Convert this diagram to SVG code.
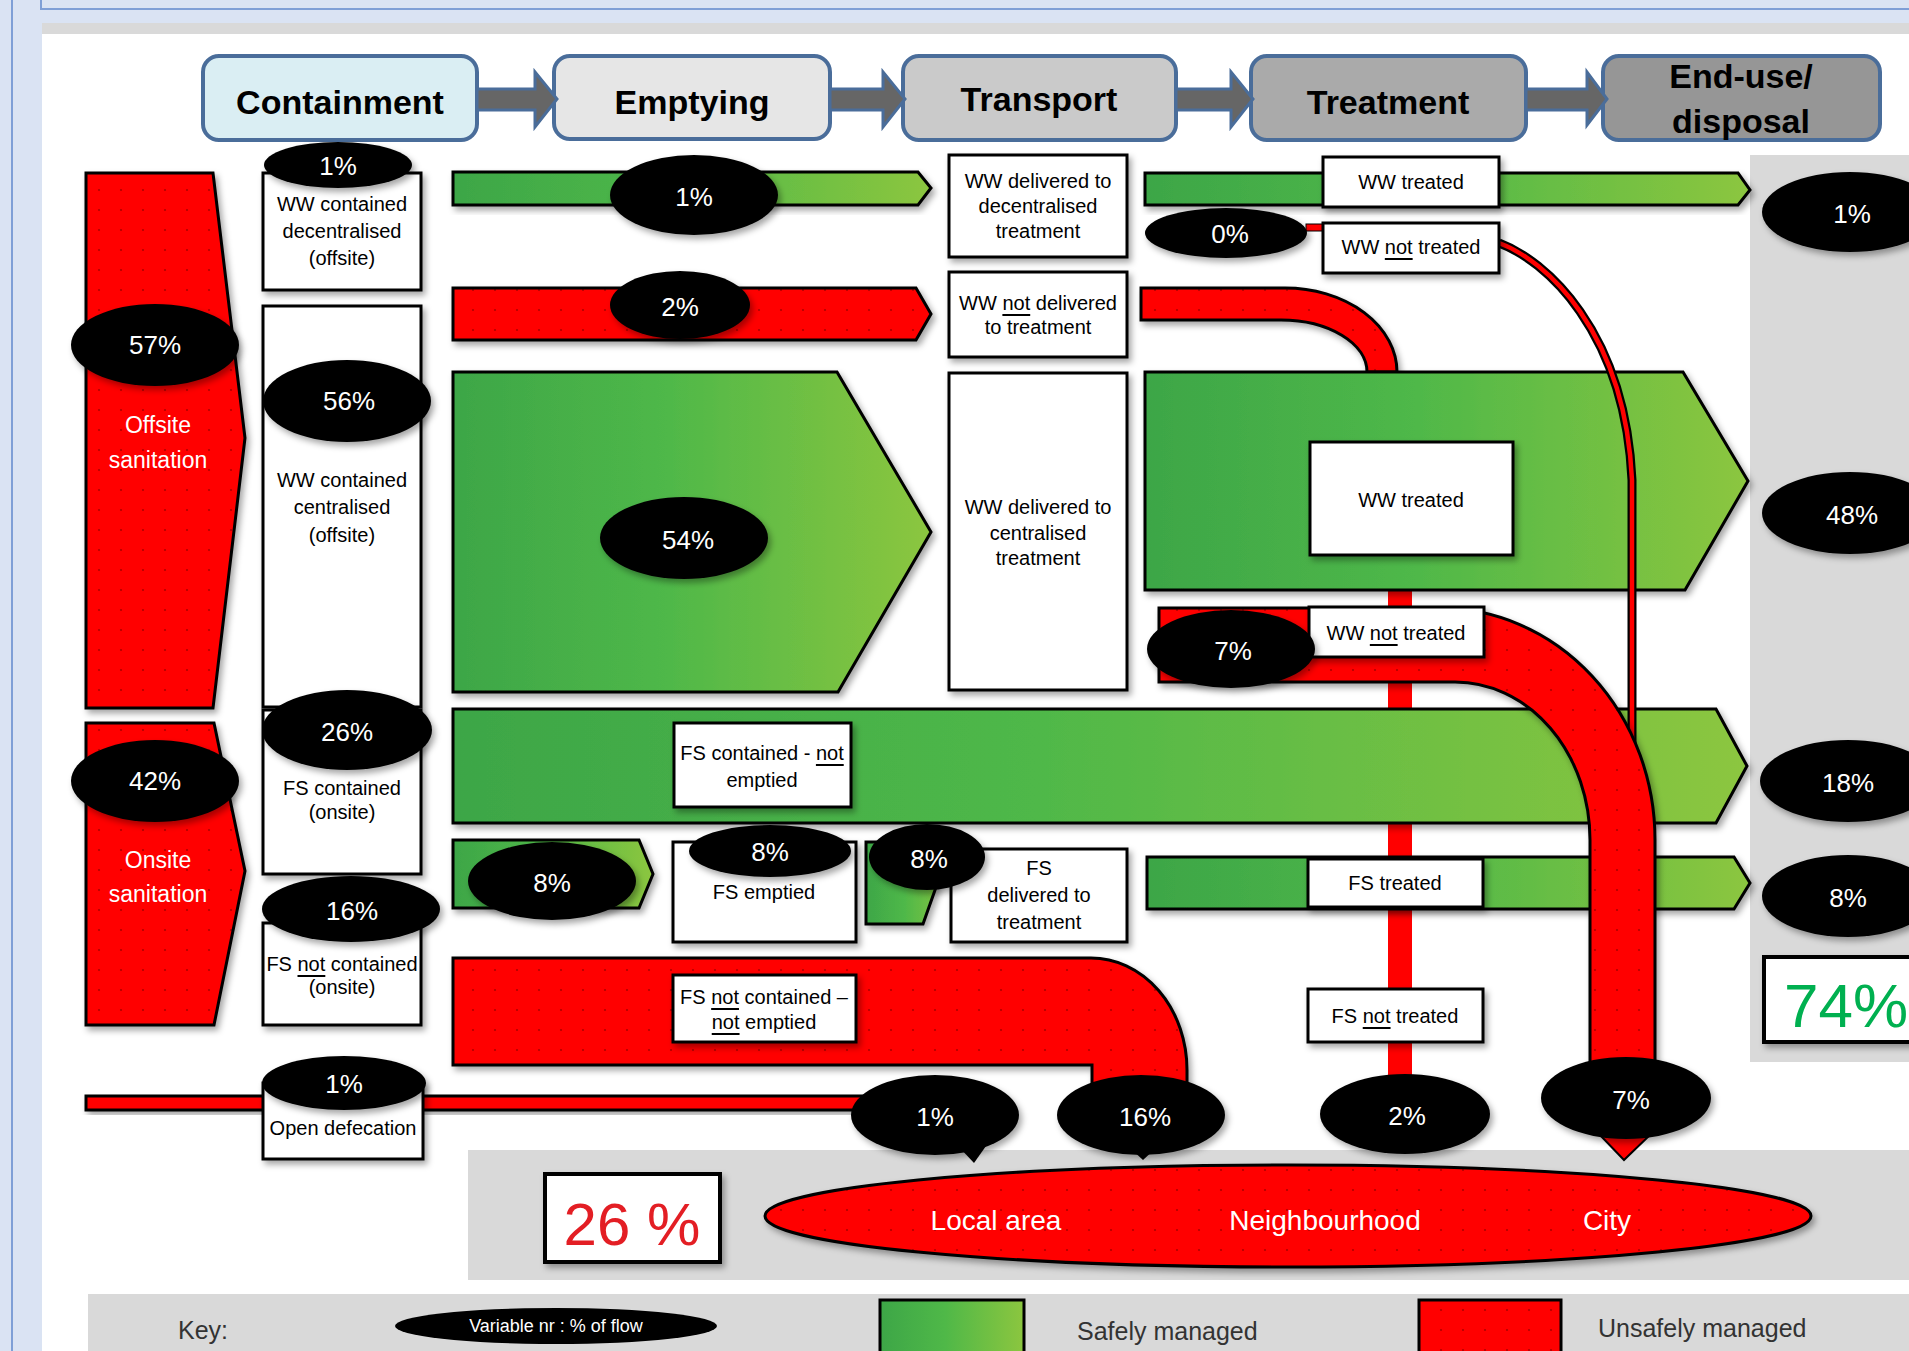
<svg xmlns="http://www.w3.org/2000/svg" width="1909" height="1351" viewBox="0 0 1909 1351">
<defs>
<style>
.box{fill:#fff;stroke:#000;stroke-width:3}
.red{fill:url(#redp);stroke:#000;stroke-width:3}
.grn{fill:url(#gg);stroke:#000;stroke-width:3}
.ell{fill:#000}
.pct{font-family:"Liberation Sans",Arial,sans-serif;font-size:26px;fill:#fff;text-anchor:middle;dominant-baseline:central}
.lbl{font-family:"Liberation Sans",Arial,sans-serif;font-size:20px;fill:#000;text-anchor:middle;dominant-baseline:central}
.hdr{font-family:"Liberation Sans",Arial,sans-serif;font-size:34px;font-weight:bold;fill:#000;text-anchor:middle}
.hbox{stroke:#4a6d9a;stroke-width:4}
.harr{fill:#666;stroke:#4a6d9a;stroke-width:3}
.wt{font-family:"Liberation Sans",Arial,sans-serif;fill:#fff;text-anchor:middle;dominant-baseline:central}
.key{font-family:"Liberation Sans",Arial,sans-serif;font-size:25px;fill:#333;dominant-baseline:central}
.sh{filter:url(#sh)}
</style>
<pattern id="redp" width="22" height="20" patternUnits="userSpaceOnUse"><rect width="22" height="20" fill="#ff0000"/><circle cx="11" cy="10" r="1.1" fill="#b00000"/></pattern>
<linearGradient id="gg" x1="0" y1="0" x2="1" y2="0"><stop offset="0" stop-color="#3da647"/><stop offset="0.45" stop-color="#4fb848"/><stop offset="1" stop-color="#8cc63f"/></linearGradient>
<filter id="sh" x="-10%" y="-10%" width="130%" height="140%"><feDropShadow dx="3" dy="4" stdDeviation="3" flood-color="#000" flood-opacity="0.35"/></filter>
</defs>

<g id="background">
<rect width="1909" height="1351" fill="#dae3f3"/>
<rect x="42" y="23" width="1867" height="1328" fill="#fff"/>
<rect x="42" y="23" width="1867" height="11" fill="#d9d9d9"/>
<line x1="12" y1="0" x2="12" y2="1351" stroke="#7f9fd6" stroke-width="2"/>
<polyline points="41,0 41,9 1909,9" fill="none" stroke="#7f9fd6" stroke-width="2"/>
<rect x="1750" y="155" width="159" height="907" fill="#d9d9d9"/>
<rect x="468" y="1150" width="1441" height="130" fill="#d9d9d9"/>
<rect x="88" y="1294" width="1821" height="57" fill="#d9d9d9"/>
</g>

<g id="headers">
<g id="h-containment"><rect class="hbox" x="203" y="56" width="274" height="84" rx="16" fill="#daeef3"/><text class="hdr" x="340" y="114">Containment</text></g>
<g id="h-emptying"><rect class="hbox" x="554" y="56" width="276" height="83" rx="16" fill="#e6e6e6"/><text class="hdr" x="692" y="114">Emptying</text></g>
<g id="h-transport"><rect class="hbox" x="903" y="56" width="273" height="84" rx="16" fill="#cacaca"/><text class="hdr" x="1039" y="111">Transport</text></g>
<g id="h-treatment"><rect class="hbox" x="1251" y="56" width="275" height="84" rx="16" fill="#aaaaaa"/><text class="hdr" x="1388" y="114">Treatment</text></g>
<g id="h-enduse"><rect class="hbox" x="1603" y="56" width="277" height="84" rx="16" fill="#969696"/><text class="hdr" x="1741" y="88">End-use/</text><text class="hdr" x="1741" y="133">disposal</text></g>
</g>

<g id="connectors">
<path class="harr" d="M477,89 H535 V72 L557,99 L535,127 V110 H477 Z"/>
<path class="harr" d="M830,89 H883 V72 L905,99 L883,127 V110 H830 Z"/>
<path class="harr" d="M1176,89 H1231 V72 L1253,99 L1231,127 V110 H1176 Z"/>
<path class="harr" d="M1526,89 H1587 V72 L1607,99 L1587,125 V110 H1526 Z"/>

<rect x="1388" y="588" width="24" height="490" fill="#ff0000"/>
<polygon class="grn sh" points="453,172 918,172 931,188 918,205 453,205"/>
<polygon class="red sh" points="453,288 916,288 931,314 916,340 453,340"/>
<polygon class="grn sh" points="453,372 837,372 931,532 838,692 453,692"/>
<polygon class="grn sh" points="1145,173 1738,173 1750,190 1738,205 1145,205"/>
<rect x="1306" y="224" width="20" height="7" fill="#ff0000" stroke="#000" stroke-width="1"/>
<path class="red sh" d="M1141,288 H1285 A112,84 0 0 1 1397,372 H1367 A86,52 0 0 0 1281,320 H1141 Z"/>
<polygon class="grn sh" points="1145,372 1683,372 1748,481 1685,590 1145,590"/>
<polygon class="grn sh" points="453,709 1716,709 1747,766 1716,823 453,823"/>
<polygon class="grn sh" points="453,840 639,840 653,874 639,908 453,908"/>
<polygon class="grn sh" points="866,842 952,842 923,924 866,924"/>
<polygon class="grn sh" points="1147,857 1734,857 1750,883 1734,909 1147,909"/>
<path class="red sh" d="M453,958 H1091 A96,112 0 0 1 1187,1070 V1095 H1092 V1065 H453 Z"/>
<rect class="red sh" x="86" y="1096" width="790" height="14"/>
<path d="M1499,243 C1545,260 1625,330 1632,480 V800" fill="none" stroke="#000" stroke-width="9"/>
<path d="M1499,243 C1545,260 1625,330 1632,480 V800" fill="none" stroke="#ff0000" stroke-width="4.5"/>
<path class="red sh" d="M1159,608 H1440 A215,232 0 0 1 1655,840 V1075 H1590 V840 A135,158 0 0 0 1455,682 H1159 Z"/>
<polygon points="1598,1133 1652,1133 1624,1160" fill="#ff0000" stroke="#000" stroke-width="2"/>
</g>

<g id="offsite"><polygon class="red sh" points="86,173 213,173 245,438 213,708 86,708"/><text class="wt" x="158" y="425" font-size="23">Offsite</text><text class="wt" x="158" y="460" font-size="23">sanitation</text></g>
<g id="onsite"><polygon class="red sh" points="86,723 214,723 245,871 214,1025 86,1025"/><text class="wt" x="158" y="860" font-size="23">Onsite</text><text class="wt" x="158" y="894" font-size="23">sanitation</text></g>

<g id="ww-decentral"><rect class="box sh" x="263" y="173" width="158" height="117"/><text class="lbl" x="342" y="204">WW contained</text><text class="lbl" x="342" y="231">decentralised</text><text class="lbl" x="342" y="258">(offsite)</text></g>
<g id="ww-central"><rect class="box sh" x="263" y="306" width="158" height="401"/><text class="lbl" x="342" y="480">WW contained</text><text class="lbl" x="342" y="507">centralised</text><text class="lbl" x="342" y="535">(offsite)</text></g>
<g id="fs-contained"><rect class="box sh" x="263" y="710" width="158" height="164"/><text class="lbl" x="342" y="788">FS contained</text><text class="lbl" x="342" y="812">(onsite)</text></g>
<g id="fs-notcontained"><rect class="box sh" x="263" y="923" width="158" height="102"/><text class="lbl" x="342" y="964">FS <tspan text-decoration="underline">not</tspan> contained</text><text class="lbl" x="342" y="987">(onsite)</text></g>
<g id="open-def"><rect class="box sh" x="263" y="1083" width="160" height="76"/><text class="lbl" x="343" y="1128">Open defecation</text></g>

<g id="fs-notemptied"><rect class="box sh" x="674" y="723" width="177" height="84"/><text class="lbl" x="762" y="753">FS contained - <tspan text-decoration="underline">not</tspan></text><text class="lbl" x="762" y="780">emptied</text></g>
<g id="fs-emptied"><rect class="box sh" x="673" y="842" width="183" height="100"/><text class="lbl" x="764" y="892">FS emptied</text></g>
<g id="fs-nc-ne"><rect class="box sh" x="673" y="975" width="183" height="67"/><text class="lbl" x="764" y="997">FS <tspan text-decoration="underline">not</tspan> contained –</text><text class="lbl" x="764" y="1022"><tspan text-decoration="underline">not</tspan> emptied</text></g>

<g id="t-ww-dec"><rect class="box sh" x="949" y="155" width="178" height="102"/><text class="lbl" x="1038" y="181">WW delivered to</text><text class="lbl" x="1038" y="206">decentralised</text><text class="lbl" x="1038" y="231">treatment</text></g>
<g id="t-ww-not"><rect class="box sh" x="949" y="272" width="178" height="85"/><text class="lbl" x="1038" y="303">WW <tspan text-decoration="underline">not</tspan> delivered</text><text class="lbl" x="1038" y="327">to treatment</text></g>
<g id="t-ww-cen"><rect class="box sh" x="949" y="373" width="178" height="317"/><text class="lbl" x="1038" y="507">WW delivered to</text><text class="lbl" x="1038" y="533">centralised</text><text class="lbl" x="1038" y="558">treatment</text></g>
<g id="t-fs"><rect class="box sh" x="951" y="849" width="176" height="93"/><text class="lbl" x="1039" y="868">FS</text><text class="lbl" x="1039" y="895">delivered to</text><text class="lbl" x="1039" y="922">treatment</text></g>

<g id="tr-ww1"><rect class="box sh" x="1323" y="157" width="176" height="50"/><text class="lbl" x="1411" y="182">WW treated</text></g>
<g id="tr-ww1n"><rect class="box sh" x="1323" y="223" width="176" height="50"/><text class="lbl" x="1411" y="247">WW <tspan text-decoration="underline">not</tspan> treated</text></g>
<g id="tr-ww2"><rect class="box sh" x="1310" y="442" width="203" height="113"/><text class="lbl" x="1411" y="500">WW treated</text></g>
<g id="tr-ww2n"><rect class="box sh" x="1309" y="607" width="175" height="50"/><text class="lbl" x="1396" y="633">WW <tspan text-decoration="underline">not</tspan> treated</text></g>
<g id="tr-fs"><rect class="box sh" x="1308" y="859" width="175" height="48"/><text class="lbl" x="1395" y="883">FS treated</text></g>
<g id="tr-fsn"><rect class="box sh" x="1308" y="989" width="175" height="53"/><text class="lbl" x="1395" y="1016">FS <tspan text-decoration="underline">not</tspan> treated</text></g>

<g id="pct-labels">
<ellipse class="ell sh" cx="155" cy="345" rx="84" ry="41"/><text class="pct" x="155" y="345">57%</text>
<ellipse class="ell sh" cx="155" cy="781" rx="84" ry="41"/><text class="pct" x="155" y="781">42%</text>
<ellipse class="ell sh" cx="338" cy="165" rx="74" ry="23"/><text class="pct" x="338" y="166">1%</text>
<ellipse class="ell sh" cx="347" cy="401" rx="84" ry="41"/><text class="pct" x="349" y="401">56%</text>
<ellipse class="ell sh" cx="347" cy="730" rx="85" ry="40"/><text class="pct" x="347" y="732">26%</text>
<ellipse class="ell sh" cx="351" cy="909" rx="89" ry="33"/><text class="pct" x="352" y="911">16%</text>
<ellipse class="ell sh" cx="344" cy="1083" rx="82" ry="27"/><text class="pct" x="344" y="1084">1%</text>
<ellipse class="ell sh" cx="694" cy="195" rx="84" ry="40"/><text class="pct" x="694" y="197">1%</text>
<ellipse class="ell sh" cx="680" cy="305" rx="70" ry="34"/><text class="pct" x="680" y="307">2%</text>
<ellipse class="ell sh" cx="684" cy="538" rx="84" ry="41"/><text class="pct" x="688" y="540">54%</text>
<ellipse class="ell sh" cx="552" cy="881" rx="84" ry="39"/><text class="pct" x="552" y="883">8%</text>
<ellipse class="ell sh" cx="770" cy="851" rx="81" ry="26"/><text class="pct" x="770" y="852">8%</text>
<ellipse class="ell sh" cx="927" cy="857" rx="58" ry="33"/><text class="pct" x="929" y="859">8%</text>
<ellipse class="ell sh" cx="1226" cy="233" rx="81" ry="25"/><text class="pct" x="1230" y="234">0%</text>
<ellipse class="ell sh" cx="1231" cy="649" rx="84" ry="39"/><text class="pct" x="1233" y="651">7%</text>
<path class="ell" d="M958,1146 L986,1146 L974,1163 Z"/>
<ellipse class="ell sh" cx="935" cy="1115" rx="84" ry="40"/><text class="pct" x="935" y="1117">1%</text>
<path class="ell" d="M1130,1148 L1156,1148 L1143,1160 Z"/>
<ellipse class="ell sh" cx="1141" cy="1115" rx="84" ry="40"/><text class="pct" x="1145" y="1117">16%</text>
<ellipse class="ell sh" cx="1405" cy="1114" rx="85" ry="40"/><text class="pct" x="1407" y="1116">2%</text>
<ellipse class="ell sh" cx="1626" cy="1098" rx="85" ry="41"/><text class="pct" x="1631" y="1100">7%</text>
<ellipse class="ell sh" cx="1850" cy="212" rx="88" ry="40"/><text class="pct" x="1852" y="214">1%</text>
<ellipse class="ell sh" cx="1850" cy="513" rx="88" ry="41"/><text class="pct" x="1852" y="515">48%</text>
<ellipse class="ell sh" cx="1848" cy="781" rx="88" ry="41"/><text class="pct" x="1848" y="783">18%</text>
<ellipse class="ell sh" cx="1848" cy="896" rx="86" ry="41"/><text class="pct" x="1848" y="898">8%</text>
</g>

<g id="total-safe"><rect x="1764" y="957" width="160" height="85" fill="#fff" stroke="#000" stroke-width="4" class="sh"/><text x="1784" y="1027" font-family="Liberation Sans,Arial,sans-serif" font-size="62" fill="#00b050">74%</text></g>
<g id="total-unsafe"><rect x="545" y="1174" width="175" height="88" fill="#fff" stroke="#000" stroke-width="4" class="sh"/><text x="632" y="1245" font-family="Liberation Sans,Arial,sans-serif" font-size="60" fill="#e31e24" text-anchor="middle">26 %</text></g>

<g id="areas"><ellipse class="red sh" cx="1288" cy="1216" rx="523" ry="51"/>
<text class="wt" x="996" y="1220" font-size="28">Local area</text>
<text class="wt" x="1325" y="1220" font-size="28">Neighbourhood</text>
<text class="wt" x="1607" y="1220" font-size="28">City</text></g>

<g id="key">
<text class="key" x="178" y="1330">Key:</text>
<ellipse class="ell" cx="556" cy="1326" rx="161" ry="18"/><text class="wt" x="556" y="1326" font-size="18">Variable nr :  % of flow</text>
<rect class="grn" x="880" y="1300" width="144" height="60"/>
<text class="key" x="1077" y="1331">Safely managed</text>
<rect class="red" x="1419" y="1300" width="142" height="60"/>
<text class="key" x="1598" y="1328">Unsafely managed</text>
</g>
</svg>
